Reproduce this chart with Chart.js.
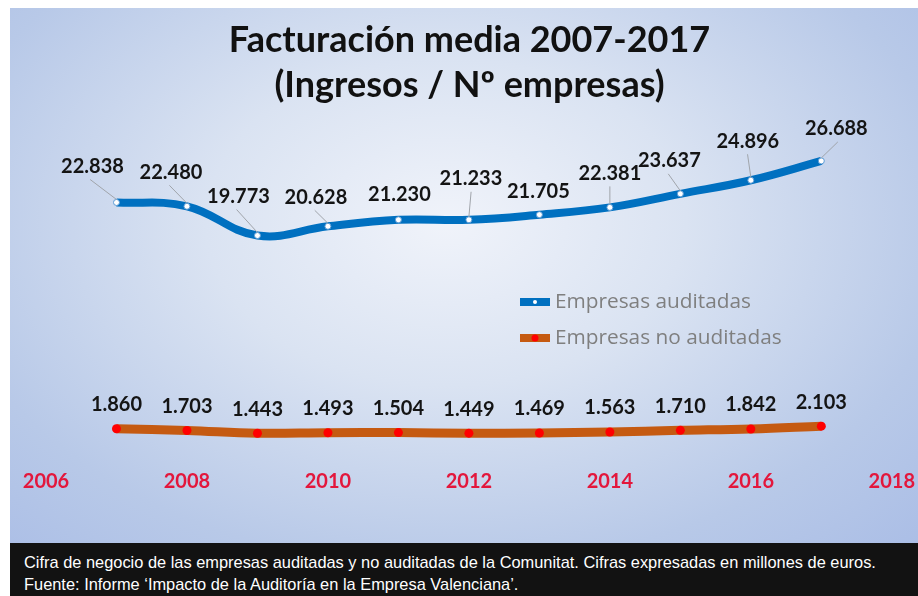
<!DOCTYPE html>
<html lang="es">
<head>
<meta charset="utf-8">
<title>Facturación media 2007-2017</title>
<script src="https://cdn.jsdelivr.net/npm/chart.js@4.4.1/dist/chart.umd.min.js"></script>
<style>
  html, body { margin: 0; padding: 0; background: #fff; }
  body { width: 918px; height: 596px; position: relative; overflow: hidden; }
  .chart-panel {
    position: absolute; left: 10px; top: 8px; width: 908px; height: 535px;
    background: radial-gradient(ellipse at 48% 40%, #f0f3fa 0%, #dae3f2 36%, #b8c9e8 76%, #abbee6 100%);
  }
  .chart-panel canvas { display: block; }
  .caption {
    position: absolute; left: 10px; top: 543px; width: 908px; height: 53px;
    box-sizing: border-box; padding: 8px 0 0 14px;
    background: #121212; color: #fff;
    font: 16.4px "Liberation Sans", Arial, sans-serif; line-height: 22px;
  }
</style>
</head>
<body>
<div class="chart-panel"><canvas id="facturacionChart" width="908" height="535"></canvas></div>
<div class="caption">
  <div>Cifra de negocio de las empresas auditadas y no auditadas de la Comunitat. Cifras expresadas en millones de euros.</div>
  <div>Fuente: Informe ‘Impacto de la Auditoría en la Empresa Valenciana’.</div>
</div>
<script>
const years = [2007, 2008, 2009, 2010, 2011, 2012, 2013, 2014, 2015, 2016, 2017];
const auditadas = [22838, 22480, 19773, 20628, 21230, 21233, 21705, 22381, 23637, 24896, 26688];
const noAuditadas = [1860, 1703, 1443, 1493, 1504, 1449, 1469, 1563, 1710, 1842, 2103];
const tickYears = [2006, 2008, 2010, 2012, 2014, 2016, 2018];
const seriesNames = ["Empresas auditadas", "Empresas no auditadas"];
const titleLines = ["Facturación media 2007-2017", "(Ingresos / Nº empresas)"];

// where each value label sits relative to its point (Excel moved them by hand)
const auditadasLabelOffsets = [
  [-24, -36], [-16, -34], [-19, -39], [-12, -29], [1, -25], [2, -41],
  [-1, -23], [0, -34], [-11, -33], [-3, -39], [15, -32]
];
const noAuditadasLabelOffsets = years.map(() => [0, -24]);

const blue = "#0070c0";
const orange = "#c55a11";
const labelFont = "700 20px Lato, 'Open Sans', sans-serif";

function formatValue(value) {
  return String(value).replace(/\B(?=(\d{3})+(?!\d))/g, ".");
}

const valueLabelPlugin = {
  id: "valueLabelPlugin",
  afterDatasetsDraw(chart) {
    const { ctx } = chart;
    ctx.save();
    ctx.textAlign = "center";
    ctx.textBaseline = "middle";

    chart.data.datasets.forEach((dataset, datasetIndex) => {
      const meta = chart.getDatasetMeta(datasetIndex);
      meta.data.forEach((element, index) => {
        const [dx, dy] = dataset.labelOffsets[index];
        const labelX = element.x + dx;
        const labelY = element.y + dy;

        if (dataset.leaderLines && dy < -27) {
          ctx.strokeStyle = "#a0a4aa";
          ctx.lineWidth = 1;
          ctx.beginPath();
          ctx.moveTo(element.x, element.y - 3);
          ctx.lineTo(labelX + dx * 0.1, labelY + 13);
          ctx.stroke();
        }

        ctx.font = labelFont;
        ctx.fillStyle = "#141414";
        ctx.fillText(formatValue(dataset.data[index].y), labelX, labelY);
      });
    });

    ctx.restore();
  }
};

const legendPlugin = {
  id: "insideLegend",
  afterDraw(chart) {
    const { ctx } = chart;
    const left = 510;
    const top = 294;
    const rowGap = 36;

    ctx.save();
    chart.data.datasets.forEach((dataset, index) => {
      const y = top + index * rowGap;
      ctx.fillStyle = dataset.borderColor;
      ctx.fillRect(left, y - 4, 30, 8);
      ctx.fillStyle = dataset.pointBackgroundColor;
      ctx.beginPath();
      ctx.arc(left + 15, y, index === 0 ? 2 : 3.5, 0, Math.PI * 2);
      ctx.fill();

      ctx.font = "400 20.8px 'Open Sans', Lato, sans-serif";
      ctx.fillStyle = "#7f7f7f";
      ctx.textAlign = "left";
      ctx.textBaseline = "middle";
      ctx.fillText(dataset.label, left + 35, y);
    });
    ctx.restore();
  }
};

function toPoints(values) {
  return years.map((year, index) => ({ x: year, y: values[index] }));
}

new Chart(document.getElementById("facturacionChart"), {
  type: "line",
  data: {
    datasets: [
      {
        label: seriesNames[0],
        data: toPoints(auditadas),
        borderColor: blue,
        borderWidth: 8,
        tension: 0.4,
        pointRadius: 3,
        pointBackgroundColor: "#ffffff",
        pointBorderColor: "#5b9bd5",
        pointBorderWidth: 1,
        labelOffsets: auditadasLabelOffsets,
        leaderLines: true
      },
      {
        label: seriesNames[1],
        data: toPoints(noAuditadas),
        borderColor: orange,
        borderWidth: 9,
        tension: 0.4,
        pointRadius: 4.5,
        pointBackgroundColor: "#ff0000",
        pointBorderWidth: 0,
        labelOffsets: noAuditadasLabelOffsets,
        leaderLines: false
      }
    ]
  },
  options: {
    responsive: false,
    animation: false,
    layout: { padding: { top: 0, right: 25, bottom: 44, left: 36 } },
    plugins: {
      legend: { display: false },
      tooltip: { enabled: false },
      title: {
        display: true,
        text: titleLines,
        color: "#111111",
        font: { family: "Lato, 'Open Sans', sans-serif", size: 36, weight: "bold", lineHeight: 1.25 },
        padding: { top: 9.5, bottom: 17.7 }
      }
    },
    scales: {
      x: {
        type: "linear",
        min: 2006,
        max: 2018,
        afterBuildTicks: (scale) => {
          scale.ticks = tickYears.map((value) => ({ value }));
        },
        grid: { display: false, drawTicks: false },
        border: { display: false },
        ticks: {
          padding: 3,
          color: "#e3173c",
          font: { family: "Lato, 'Open Sans', sans-serif", size: 20, weight: "bold", lineHeight: 1.4 },
          callback: (value) => String(value),
          maxRotation: 0
        }
      },
      y: {
        display: false,
        min: -1500,
        max: 30000
      }
    }
  },
  plugins: [valueLabelPlugin, legendPlugin]
});
</script>
</body>
</html>
